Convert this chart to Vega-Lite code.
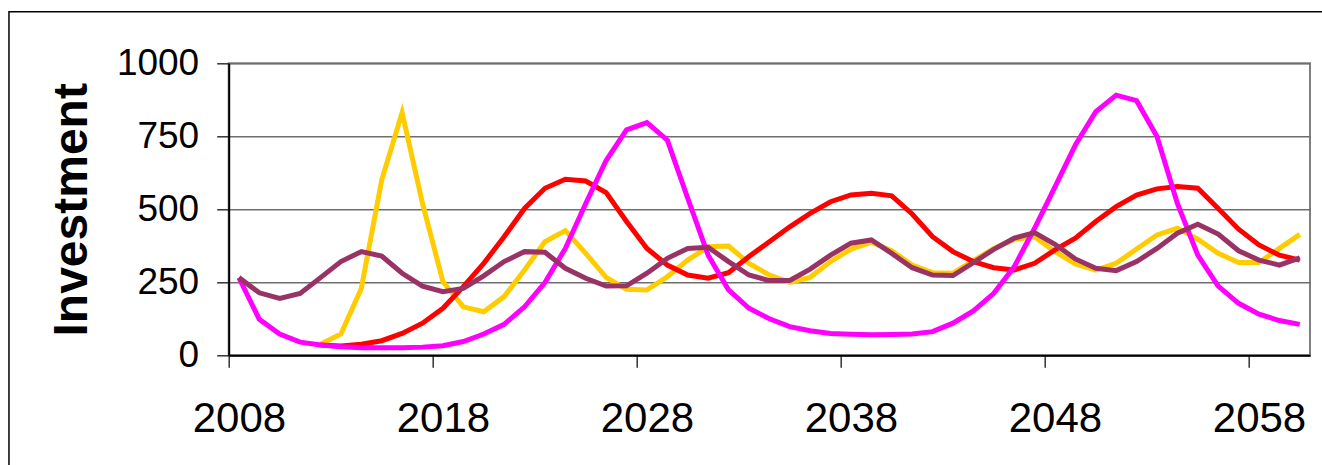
{
  "$schema": "https://vega.github.io/schema/vega-lite/v6.json",
  "autosize": {"type": "none"},
  "width": 1081.3, "height": 292,
  "padding": {"left": 228.7, "top": 63.3, "right": 12, "bottom": 109.7},
  "background": "white",
  "config": {
    "font": "Liberation Sans",
    "view": {"stroke": "#808080", "strokeWidth": 2},
    "axis": {"labelColor": "black", "labelFont": "Liberation Sans", "titleFont": "Liberation Sans", "titleColor": "black"}
  },
  "data": {"values": [
    {"series": "yellow", "year": 2012, "value": 38}, {"series": "yellow", "year": 2013, "value": 73}, {"series": "yellow", "year": 2014, "value": 229}, {"series": "yellow", "year": 2015, "value": 600},
    {"series": "yellow", "year": 2016, "value": 831}, {"series": "yellow", "year": 2017, "value": 520}, {"series": "yellow", "year": 2018, "value": 252}, {"series": "yellow", "year": 2019, "value": 166},
    {"series": "yellow", "year": 2020, "value": 149}, {"series": "yellow", "year": 2021, "value": 201}, {"series": "yellow", "year": 2022, "value": 292}, {"series": "yellow", "year": 2023, "value": 389},
    {"series": "yellow", "year": 2024, "value": 427}, {"series": "yellow", "year": 2025, "value": 349}, {"series": "yellow", "year": 2026, "value": 267}, {"series": "yellow", "year": 2027, "value": 226},
    {"series": "yellow", "year": 2028, "value": 224}, {"series": "yellow", "year": 2029, "value": 269}, {"series": "yellow", "year": 2030, "value": 326}, {"series": "yellow", "year": 2031, "value": 372},
    {"series": "yellow", "year": 2032, "value": 374}, {"series": "yellow", "year": 2033, "value": 315}, {"series": "yellow", "year": 2034, "value": 275}, {"series": "yellow", "year": 2035, "value": 250},
    {"series": "yellow", "year": 2036, "value": 267}, {"series": "yellow", "year": 2037, "value": 321}, {"series": "yellow", "year": 2038, "value": 364}, {"series": "yellow", "year": 2039, "value": 387},
    {"series": "yellow", "year": 2040, "value": 358}, {"series": "yellow", "year": 2041, "value": 309}, {"series": "yellow", "year": 2042, "value": 283}, {"series": "yellow", "year": 2043, "value": 281},
    {"series": "yellow", "year": 2044, "value": 324}, {"series": "yellow", "year": 2045, "value": 366}, {"series": "yellow", "year": 2046, "value": 397}, {"series": "yellow", "year": 2047, "value": 406},
    {"series": "yellow", "year": 2048, "value": 355}, {"series": "yellow", "year": 2049, "value": 313}, {"series": "yellow", "year": 2050, "value": 292}, {"series": "yellow", "year": 2051, "value": 315},
    {"series": "yellow", "year": 2052, "value": 364}, {"series": "yellow", "year": 2053, "value": 412}, {"series": "yellow", "year": 2054, "value": 435}, {"series": "yellow", "year": 2055, "value": 398},
    {"series": "yellow", "year": 2056, "value": 349}, {"series": "yellow", "year": 2057, "value": 318}, {"series": "yellow", "year": 2058, "value": 318}, {"series": "yellow", "year": 2059, "value": 366},
    {"series": "yellow", "year": 2060, "value": 414},

    {"series": "red", "year": 2012, "value": 35}, {"series": "red", "year": 2013, "value": 32}, {"series": "red", "year": 2014, "value": 38}, {"series": "red", "year": 2015, "value": 50},
    {"series": "red", "year": 2016, "value": 75}, {"series": "red", "year": 2017, "value": 110}, {"series": "red", "year": 2018, "value": 161}, {"series": "red", "year": 2019, "value": 235},
    {"series": "red", "year": 2020, "value": 315}, {"series": "red", "year": 2021, "value": 406}, {"series": "red", "year": 2022, "value": 503}, {"series": "red", "year": 2023, "value": 572},
    {"series": "red", "year": 2024, "value": 603}, {"series": "red", "year": 2025, "value": 597}, {"series": "red", "year": 2026, "value": 557}, {"series": "red", "year": 2027, "value": 458},
    {"series": "red", "year": 2028, "value": 366}, {"series": "red", "year": 2029, "value": 309}, {"series": "red", "year": 2030, "value": 275}, {"series": "red", "year": 2031, "value": 264},
    {"series": "red", "year": 2032, "value": 283}, {"series": "red", "year": 2033, "value": 338}, {"series": "red", "year": 2034, "value": 389}, {"series": "red", "year": 2035, "value": 440},
    {"series": "red", "year": 2036, "value": 486}, {"series": "red", "year": 2037, "value": 526}, {"series": "red", "year": 2038, "value": 549}, {"series": "red", "year": 2039, "value": 555},
    {"series": "red", "year": 2040, "value": 546}, {"series": "red", "year": 2041, "value": 484}, {"series": "red", "year": 2042, "value": 406}, {"series": "red", "year": 2043, "value": 355},
    {"series": "red", "year": 2044, "value": 321}, {"series": "red", "year": 2045, "value": 300}, {"series": "red", "year": 2046, "value": 292}, {"series": "red", "year": 2047, "value": 315},
    {"series": "red", "year": 2048, "value": 361}, {"series": "red", "year": 2049, "value": 401}, {"series": "red", "year": 2050, "value": 458}, {"series": "red", "year": 2051, "value": 509},
    {"series": "red", "year": 2052, "value": 549}, {"series": "red", "year": 2053, "value": 570}, {"series": "red", "year": 2054, "value": 578}, {"series": "red", "year": 2055, "value": 572},
    {"series": "red", "year": 2056, "value": 503}, {"series": "red", "year": 2057, "value": 432}, {"series": "red", "year": 2058, "value": 378}, {"series": "red", "year": 2059, "value": 343},
    {"series": "red", "year": 2060, "value": 326},

    {"series": "magenta", "year": 2008, "value": 266}, {"series": "magenta", "year": 2009, "value": 123}, {"series": "magenta", "year": 2010, "value": 73}, {"series": "magenta", "year": 2011, "value": 45},
    {"series": "magenta", "year": 2012, "value": 35}, {"series": "magenta", "year": 2013, "value": 29}, {"series": "magenta", "year": 2014, "value": 26}, {"series": "magenta", "year": 2015, "value": 26},
    {"series": "magenta", "year": 2016, "value": 26}, {"series": "magenta", "year": 2017, "value": 28}, {"series": "magenta", "year": 2018, "value": 33}, {"series": "magenta", "year": 2019, "value": 47},
    {"series": "magenta", "year": 2020, "value": 73}, {"series": "magenta", "year": 2021, "value": 106}, {"series": "magenta", "year": 2022, "value": 166}, {"series": "magenta", "year": 2023, "value": 249},
    {"series": "magenta", "year": 2024, "value": 366}, {"series": "magenta", "year": 2025, "value": 520}, {"series": "magenta", "year": 2026, "value": 667}, {"series": "magenta", "year": 2027, "value": 772},
    {"series": "magenta", "year": 2028, "value": 797}, {"series": "magenta", "year": 2029, "value": 737}, {"series": "magenta", "year": 2030, "value": 538}, {"series": "magenta", "year": 2031, "value": 343},
    {"series": "magenta", "year": 2032, "value": 224}, {"series": "magenta", "year": 2033, "value": 161}, {"series": "magenta", "year": 2034, "value": 125}, {"series": "magenta", "year": 2035, "value": 98},
    {"series": "magenta", "year": 2036, "value": 84}, {"series": "magenta", "year": 2037, "value": 75}, {"series": "magenta", "year": 2038, "value": 72}, {"series": "magenta", "year": 2039, "value": 70},
    {"series": "magenta", "year": 2040, "value": 71}, {"series": "magenta", "year": 2041, "value": 73}, {"series": "magenta", "year": 2042, "value": 81}, {"series": "magenta", "year": 2043, "value": 110},
    {"series": "magenta", "year": 2044, "value": 152}, {"series": "magenta", "year": 2045, "value": 212}, {"series": "magenta", "year": 2046, "value": 303}, {"series": "magenta", "year": 2047, "value": 435},
    {"series": "magenta", "year": 2048, "value": 577}, {"series": "magenta", "year": 2049, "value": 720}, {"series": "magenta", "year": 2050, "value": 834}, {"series": "magenta", "year": 2051, "value": 891},
    {"series": "magenta", "year": 2052, "value": 872}, {"series": "magenta", "year": 2053, "value": 749}, {"series": "magenta", "year": 2054, "value": 520}, {"series": "magenta", "year": 2055, "value": 343},
    {"series": "magenta", "year": 2056, "value": 237}, {"series": "magenta", "year": 2057, "value": 178}, {"series": "magenta", "year": 2058, "value": 141}, {"series": "magenta", "year": 2059, "value": 119},
    {"series": "magenta", "year": 2060, "value": 106},

    {"series": "purple", "year": 2008, "value": 266}, {"series": "purple", "year": 2009, "value": 214}, {"series": "purple", "year": 2010, "value": 195}, {"series": "purple", "year": 2011, "value": 212},
    {"series": "purple", "year": 2012, "value": 266}, {"series": "purple", "year": 2013, "value": 321}, {"series": "purple", "year": 2014, "value": 355}, {"series": "purple", "year": 2015, "value": 340},
    {"series": "purple", "year": 2016, "value": 281}, {"series": "purple", "year": 2017, "value": 237}, {"series": "purple", "year": 2018, "value": 218}, {"series": "purple", "year": 2019, "value": 229},
    {"series": "purple", "year": 2020, "value": 272}, {"series": "purple", "year": 2021, "value": 321}, {"series": "purple", "year": 2022, "value": 355}, {"series": "purple", "year": 2023, "value": 353},
    {"series": "purple", "year": 2024, "value": 298}, {"series": "purple", "year": 2025, "value": 264}, {"series": "purple", "year": 2026, "value": 237}, {"series": "purple", "year": 2027, "value": 238},
    {"series": "purple", "year": 2028, "value": 281}, {"series": "purple", "year": 2029, "value": 332}, {"series": "purple", "year": 2030, "value": 366}, {"series": "purple", "year": 2031, "value": 370},
    {"series": "purple", "year": 2032, "value": 321}, {"series": "purple", "year": 2033, "value": 275}, {"series": "purple", "year": 2034, "value": 256}, {"series": "purple", "year": 2035, "value": 256},
    {"series": "purple", "year": 2036, "value": 295}, {"series": "purple", "year": 2037, "value": 343}, {"series": "purple", "year": 2038, "value": 384}, {"series": "purple", "year": 2039, "value": 395},
    {"series": "purple", "year": 2040, "value": 349}, {"series": "purple", "year": 2041, "value": 300}, {"series": "purple", "year": 2042, "value": 275}, {"series": "purple", "year": 2043, "value": 273},
    {"series": "purple", "year": 2044, "value": 317}, {"series": "purple", "year": 2045, "value": 363}, {"series": "purple", "year": 2046, "value": 401}, {"series": "purple", "year": 2047, "value": 420},
    {"series": "purple", "year": 2048, "value": 380}, {"series": "purple", "year": 2049, "value": 330}, {"series": "purple", "year": 2050, "value": 298}, {"series": "purple", "year": 2051, "value": 290},
    {"series": "purple", "year": 2052, "value": 321}, {"series": "purple", "year": 2053, "value": 366}, {"series": "purple", "year": 2054, "value": 418}, {"series": "purple", "year": 2055, "value": 449},
    {"series": "purple", "year": 2056, "value": 415}, {"series": "purple", "year": 2057, "value": 358}, {"series": "purple", "year": 2058, "value": 326}, {"series": "purple", "year": 2059, "value": 309},
    {"series": "purple", "year": 2060, "value": 334}
  ]},
  "layer": [
    {
      "data": {"values": [{"edge": "chart area"}]},
      "mark": {"type": "rect", "filled": false, "stroke": "black", "strokeWidth": 1.5, "clip": false},
      "encoding": {
        "x": {"datum": 1996.73, "type": "quantitative", "scale": {"domain": [2007.5, 2060.5], "nice": false, "zero": false}},
        "x2": {"datum": 2080},
        "y": {"datum": 1176.7, "type": "quantitative", "scale": {"domain": [0, 1000], "nice": false}},
        "y2": {"datum": -500}
      }
    },
    {
      "encoding": {
        "x": {
          "field": "year", "type": "quantitative",
          "scale": {"domain": [2007.5, 2060.5], "nice": false, "zero": false},
          "axis": {
            "title": null,
            "values": [2007.5, 2017.5, 2027.5, 2037.5, 2047.5, 2057.5],
            "labelExpr": "format(datum.value + 0.5, 'd')",
            "labelOffset": 10.2, "labelFlush": false, "labelOverlap": false, "labelBound": false,
            "labelFontSize": 42, "labelBaseline": "alphabetic", "labelPadding": 64,
            "domainColor": "black", "domainWidth": 2,
            "tickColor": "#333333", "tickWidth": 1.5, "tickSize": 12,
            "grid": false
          }
        },
        "y": {
          "field": "value", "type": "quantitative",
          "scale": {"domain": [0, 1000], "nice": false},
          "axis": {
            "title": "Investment",
            "titleFontSize": 48, "titleFontWeight": "bold",
            "titleAngle": 270, "titleAlign": "center", "titleBaseline": "alphabetic",
            "titleX": -142.7, "titleY": 146,
            "values": [0, 250, 500, 750, 1000], "format": "d",
            "labelFontSize": 37, "labelPadding": 18, "labelBaseline": "middle",
            "domainColor": "black", "domainWidth": 2,
            "tickColor": "#333333", "tickWidth": 1.5, "tickSize": 12,
            "grid": true, "gridColor": "#6e6e6e", "gridWidth": 1.5
          }
        }
      },
      "layer": [
        {"transform": [{"filter": "datum.series == 'yellow'"}], "mark": {"type": "line", "color": "#FFCC00", "strokeWidth": 5}},
        {"transform": [{"filter": "datum.series == 'red'"}], "mark": {"type": "line", "color": "#FF0000", "strokeWidth": 5}},
        {"transform": [{"filter": "datum.series == 'magenta'"}], "mark": {"type": "line", "color": "#FF00FF", "strokeWidth": 5}},
        {"transform": [{"filter": "datum.series == 'purple'"}], "mark": {"type": "line", "color": "#993366", "strokeWidth": 5}}
      ]
    }
  ]
}
